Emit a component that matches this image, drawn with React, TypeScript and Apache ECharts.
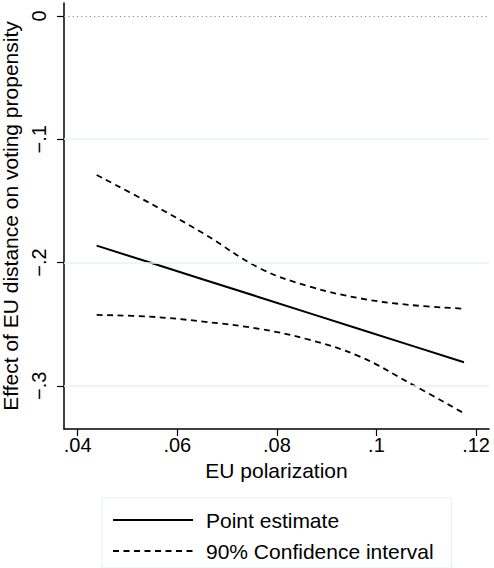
import React, { useEffect, useRef } from "react";
import * as echarts from "echarts";

const xValues = [0.04381, 0.05452, 0.06522, 0.07661, 0.08665, 0.09669, 0.10673, 0.11757];
const pointEstimate = [-0.1863, -0.2, -0.2137, -0.2283, -0.2412, -0.2541, -0.267, -0.2809];
const upperCI = [-0.129, -0.1519, -0.1763, -0.2047, -0.2195, -0.229, -0.2344, -0.2374];
const lowerCI = [-0.2425, -0.2439, -0.2479, -0.2539, -0.2628, -0.2763, -0.2979, -0.3222];
const xTicks = [0.04, 0.06, 0.08, 0.1, 0.12];
const yTicks = [0, -0.1, -0.2, -0.3];
const gridValues = [-0.1, -0.2, -0.3];

const FONT = '"Liberation Sans", Arial, Helvetica, sans-serif';

export default function App() {
  const ref = useRef<HTMLDivElement>(null);
  useEffect(() => {
    if (!ref.current) return;
    const chart = echarts.init(ref.current, undefined, { renderer: "svg" });
    const pairs = (ys: number[]) => xValues.map((x, i) => [x, ys[i]]);
    const fmtY = (v: number) => {
      if (Math.abs(v) < 1e-9) return "0";
      const s = String(Math.round(Math.abs(v) * 1000) / 1000).replace(/^0/, "");
      return (v < 0 ? "\u2212" : "") + s;
    };
    const fmtX = (v: number) => String(Math.round(v * 1000) / 1000).replace(/^0/, "");
    const dashed = { color: "#000", width: 1.8, type: [6, 4.5] as any };
    chart.setOption({
      animation: false,
      backgroundColor: "#fff",
      textStyle: { fontFamily: FONT },
      grid: { left: 64, right: 5, top: 3, bottom: 139, containLabel: false, outerBoundsMode: "none" },
      xAxis: {
        type: "value",
        min: 0.03725,
        max: 0.1226,
        name: "EU polarization",
        nameLocation: "middle",
        nameGap: 31,
        nameTextStyle: { fontSize: 21, color: "#000", fontFamily: FONT },
        axisLine: { show: true, onZero: false, lineStyle: { color: "#000", width: 1.5 } },
        axisTick: { show: true, length: 7, lineStyle: { color: "#000", width: 1.2 }, customValues: xTicks },
        axisLabel: { show: true, margin: 6, fontSize: 20, color: "#000", fontFamily: FONT, customValues: xTicks, formatter: fmtX },
        splitLine: { show: false },
      },
      yAxis: {
        type: "value",
        min: -0.335,
        max: 0.0105,
        name: "Effect of EU distance on voting propensity",
        nameLocation: "middle",
        nameGap: 34,
        nameTextStyle: { fontSize: 21, color: "#000", fontFamily: FONT },
        axisLine: { show: true, onZero: false, lineStyle: { color: "#000", width: 1.5 } },
        axisTick: { show: true, length: 7, lineStyle: { color: "#000", width: 1.2 }, customValues: yTicks },
        axisLabel: { show: true, rotate: 90, margin: 15, fontSize: 20, color: "#000", fontFamily: FONT, customValues: yTicks, formatter: fmtY },
        splitLine: { show: false },
      },
      legend: {
        orient: "vertical",
        left: 102,
        top: 498,
        padding: [10, 18, 5, 10],
        itemWidth: 80,
        itemHeight: 14,
        itemGap: 7,
        borderColor: "#e6edf0",
        borderWidth: 1,
        borderRadius: 0,
        itemStyle: { opacity: 0 },
        textStyle: { fontSize: 21, color: "#000", lineHeight: 24, fontFamily: FONT, padding: [0, 0, 0, 8] },
        data: ["Point estimate", "90% Confidence interval"],
      },
      series: [
        {
          name: "Point estimate",
          type: "line",
          data: pairs(pointEstimate),
          symbol: "none",
          showSymbol: false,
          lineStyle: { color: "#000", width: 2 },
          itemStyle: { color: "#000" },
          markLine: {
            silent: true,
            symbol: "none",
            label: { show: false },
            data: [
              ...gridValues.map((v) => ({ yAxis: v, lineStyle: { color: "#eaf1f3", width: 1.5, type: "solid" } })),
              { yAxis: 0, lineStyle: { color: "#8a8a8a", width: 1.2, type: [1.2, 3.1] as any } },
            ],
          },
          z: 3,
        },
        {
          name: "90% Confidence interval",
          type: "line",
          data: pairs(upperCI),
          smooth: 0.4,
          symbol: "none",
          showSymbol: false,
          lineStyle: dashed,
          itemStyle: { color: "#000" },
          z: 3,
        },
        {
          name: "90% Confidence interval",
          type: "line",
          data: pairs(lowerCI),
          smooth: 0.4,
          symbol: "none",
          showSymbol: false,
          lineStyle: dashed,
          itemStyle: { color: "#000" },
          z: 3,
        },
      ],
    });
    return () => chart.dispose();
  }, []);
  return <div ref={ref} style={{ position: "fixed", left: 0, top: 0, width: 494, height: 568 }} />;
}
